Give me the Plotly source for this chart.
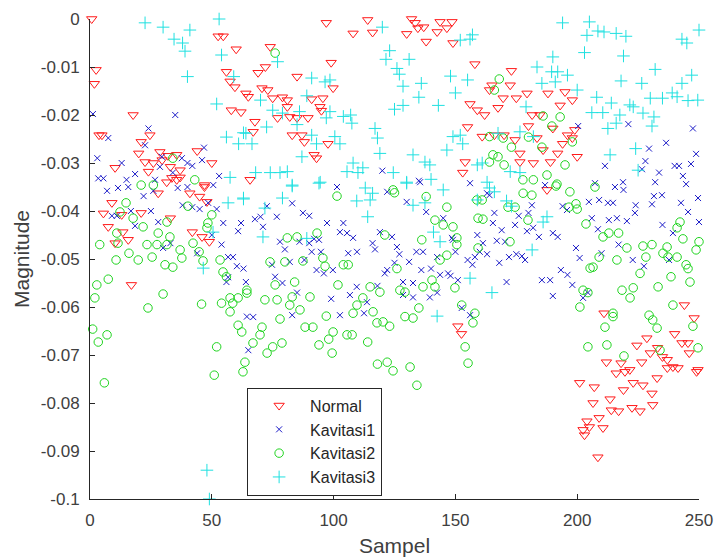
import plotly.graph_objects as go

# Samples (x) and magnitude (y) for each condition
normal = [
    (0.7, 0.0), (2.5, -0.0106), (1.8, -0.0135), (3.7, -0.0242), (4.9, -0.0242), (17.7, -0.020),
    (52.6, -0.0036), (54.7, -0.0036), (60, -0.0063), (56, -0.011), (57.5, -0.013), (59.5, -0.0142),
    (64, -0.0155), (58, -0.019), (62, -0.0194),
    (21, -0.0256), (24.6, -0.0242), (20, -0.028), (22.6, -0.0298), (26, -0.030), (28.7, -0.0277),
    (32, -0.0285), (35.6, -0.0283), (44, -0.0275), (50, -0.030), (10.3, -0.031), (24, -0.0318),
    (33, -0.0308), (37, -0.0315), (31.5, -0.034), (35.6, -0.0335), (47, -0.0346),
    (29.6, -0.0294), (33.6, -0.0331), (37, -0.033),
    (97, -0.0008), (114, -0.0002), (108, -0.003), (116, -0.0028), (132, 0.0), (133.5, -0.0008),
    (134.6, -0.0019), (137, -0.0017), (130, -0.0031), (138, -0.0047), (143.7, -0.0006), (148.6, -0.0006),
    (142.5, -0.0027), (146.5, -0.0019), (149, -0.005), (158, -0.0094), (156, -0.0177), (159, -0.019),
    (155, -0.0225), (154, -0.0298), (153, -0.032),
    (74, -0.0058), (69, -0.0112), (72, -0.010), (99, -0.0091), (85, -0.012), (99.8, -0.0144),
    (70.6, -0.0144), (73, -0.0148), (65, -0.0162), (75, -0.0165), (79, -0.0163), (81, -0.0169),
    (91, -0.0167), (95.6, -0.0165), (94.4, -0.0183), (81, -0.0183), (95, -0.0191), (77, -0.0206),
    (82, -0.0204), (85, -0.0206), (89.5, -0.0206), (67.7, -0.0214), (67, -0.0235), (83, -0.0242),
    (87, -0.0242), (88, -0.0256), (97.7, -0.026), (92, -0.0283), (93, -0.029), (65.7, -0.0335),
    (173, -0.0108), (172.5, -0.0138), (165, -0.0138), (164, -0.0148), (169.6, -0.0165), (175, -0.0165),
    (179.4, -0.0155), (188, -0.0155), (195, -0.0152), (198, -0.0169), (193, -0.018), (162, -0.020),
    (167.5, -0.0185), (181.5, -0.020), (184.7, -0.020), (180, -0.0223), (190, -0.0228), (161, -0.0245),
    (166, -0.0242), (170, -0.0242), (174.5, -0.0252), (183.5, -0.0248), (196, -0.0242), (198, -0.0248),
    (199, -0.0231), (194, -0.026), (186, -0.0273), (176.5, -0.028), (192, -0.028), (176.5, -0.0298),
    (200, -0.0287), (182, -0.030), (189, -0.0298),
    (9, -0.0383), (5.5, -0.0405), (7.5, -0.0433), (13, -0.0408), (21, -0.0404), (28, -0.0363),
    (33, -0.0415), (13.5, -0.0444), (15.7, -0.046), (10.3, -0.0467), (17, -0.0554), (42, -0.0444),
    (46, -0.0454), (49, -0.0464), (41, -0.0363), (47, -0.035), (45, -0.037), (48, -0.0381),
    (151, -0.064), (152.5, -0.0656),
    (211, -0.0613), (187.6, -0.0356), (244, -0.0596), (248, -0.0623), (224.5, -0.068), (228.6, -0.0665),
    (233, -0.0685), (240, -0.0656), (243, -0.0675), (245.5, -0.0675), (246, -0.0696), (230, -0.0696),
    (212, -0.0715), (218, -0.0717), (226.5, -0.0715), (235, -0.0704), (237, -0.071),
    (201, -0.0758), (207, -0.0767), (216, -0.0738), (219.6, -0.0735), (221.6, -0.0731), (219, -0.0773),
    (223, -0.0758), (227, -0.0763), (232.8, -0.0748), (230.7, -0.078), (231, -0.0804), (206.5, -0.080),
    (213.5, -0.0792), (214, -0.0815), (217, -0.0817), (222.5, -0.081), (225.8, -0.0817), (204, -0.0838),
    (209, -0.0831), (202.4, -0.0856), (203, -0.0867), (205, -0.085), (210.6, -0.0852), (208.5, -0.0913),
    (239.3, -0.0725), (241.4, -0.0727), (249.6, -0.0731), (249, -0.0735), (237, -0.0727),
]

kavitasi1 = [
    (1.2, -0.0198), (35, -0.020), (24, -0.0228), (7.5, -0.0248), (3, -0.029), (13, -0.030),
    (3.4, -0.0332), (5.5, -0.0332), (18.5, -0.0323), (15, -0.0335), (22.6, -0.0263), (29.5, -0.0287),
    (37.7, -0.029), (40, -0.030), (42, -0.0306), (46, -0.0294), (46.8, -0.0268), (34, -0.032),
    (53, -0.0327), (50.6, -0.0346), (26.7, -0.0335), (28.7, -0.0308), (33, -0.0467),
    (7, -0.0358), (11.5, -0.0352), (15.7, -0.035), (22, -0.0369), (26, -0.0358), (36, -0.0352),
    (40, -0.035), (9, -0.041), (11, -0.041), (16.8, -0.040), (25, -0.040), (18.5, -0.0431),
    (28, -0.0423), (38, -0.0388), (42, -0.0392), (45, -0.0396), (48.5, -0.0383), (52, -0.0396),
    (54.7, -0.0425), (60.8, -0.0442), (62, -0.0425), (54, -0.047), (30, -0.0477), (44, -0.0488),
    (56.7, -0.0496), (58.7, -0.0496), (60.3, -0.0515), (56.7, -0.0538), (56, -0.0548), (64, -0.0548),
    (64.4, -0.062), (65, -0.069), (50, -0.045),
    (101.4, -0.035), (122, -0.036), (135.5, -0.034), (156, -0.0342), (72.6, -0.039), (83, -0.0384),
    (67.7, -0.0417), (70, -0.0412), (76.7, -0.0412), (71, -0.0433), (87.4, -0.0404), (90, -0.041),
    (97.3, -0.0425), (104, -0.0425), (102.6, -0.0444), (105.5, -0.0446), (108, -0.0456), (78, -0.0464),
    (80, -0.048), (86, -0.0464), (90, -0.0467), (92, -0.0458), (94, -0.046), (91, -0.0485),
    (94.8, -0.0485), (88, -0.0502), (82, -0.0506), (74.7, -0.0512), (63, -0.052), (93, -0.0523),
    (96, -0.053), (99.7, -0.0523), (76, -0.0537), (79, -0.055), (85, -0.057), (99, -0.0583),
    (83, -0.0617), (102.6, -0.0617), (67, -0.0621), (106, -0.0488), (109.6, -0.0485), (116, -0.0467),
    (117, -0.048), (119, -0.0444), (124, -0.0454), (130, -0.0381), (138, -0.0402), (126, -0.0475),
    (127, -0.049), (134, -0.0485), (136.7, -0.0485), (131, -0.0506), (125, -0.0508), (122, -0.0523),
    (121, -0.053), (136, -0.0523), (140, -0.052), (143.7, -0.0533), (147, -0.053), (148, -0.0535),
    (142.5, -0.0496), (150, -0.0485), (149, -0.046), (145, -0.0415), (148.6, -0.0456), (155, -0.0502),
    (157, -0.0512), (151, -0.0544), (159, -0.045), (128.5, -0.0548), (132.6, -0.055), (109.5, -0.0558),
    (118, -0.0556), (106.7, -0.0575), (113.7, -0.059), (128.5, -0.0575), (132.6, -0.058), (139.5, -0.058),
    (142.5, -0.057), (112.5, -0.0613), (152.6, -0.0602), (156, -0.0617),
    (120, -0.0316), (135, -0.0337),
    (200.4, -0.0223), (221, -0.0219), (247.5, -0.0228), (229.5, -0.027), (236.5, -0.0258), (211.4, -0.0306),
    (228, -0.0296), (248.8, -0.0281), (246.7, -0.0302), (240, -0.0306), (241.8, -0.0306), (226.6, -0.0313),
    (233.6, -0.032), (243.4, -0.0327), (232, -0.034), (244.7, -0.0344), (207.3, -0.0342), (218.8, -0.034),
    (215.5, -0.035), (186.8, -0.0346),
    (219, -0.0356), (231.5, -0.0369), (234.8, -0.0367), (249.6, -0.0373), (204.8, -0.0381), (209, -0.0377),
    (212.6, -0.0383), (214.7, -0.0383), (224, -0.0388), (230.7, -0.0386), (242.6, -0.0383), (245.5, -0.0402),
    (250, -0.0423), (163, -0.0363), (164, -0.0367), (181.4, -0.0388), (194, -0.039), (195.8, -0.0398),
    (180, -0.0404), (166, -0.0404), (176, -0.041), (165.4, -0.0425), (174.5, -0.0429), (169, -0.044),
    (179.4, -0.0442), (181.9, -0.0435), (184.3, -0.0454), (190, -0.0446), (192, -0.0454), (167, -0.0462),
    (170.4, -0.0464), (161.3, -0.0467), (160, -0.0485), (158, -0.0496), (163, -0.049), (168, -0.0508),
    (172, -0.0496), (175, -0.049), (177.3, -0.0494), (178.6, -0.0502), (199.5, -0.0477), (201, -0.0498),
    (208.5, -0.0438), (206, -0.0415), (213, -0.0419), (216.3, -0.0415), (220.4, -0.0421), (223.7, -0.0404),
    (235, -0.0429), (239.3, -0.0446), (217, -0.047), (222.8, -0.0502), (227.4, -0.0515), (210, -0.0488),
    (237.7, -0.0502), (193.3, -0.0523), (196, -0.0533), (185.5, -0.0544), (188.9, -0.0544), (198, -0.0554),
    (171, -0.0548), (190, -0.0577), (202.4, -0.0581), (204.4, -0.057),
]

kavitasi2 = [
    (34, -0.029), (43, -0.0335), (21, -0.0346), (26, -0.0346), (76, -0.0071), (124.4, -0.0356),
    (168, -0.0125), (166, -0.0148), (193, -0.0204), (186, -0.0202), (164, -0.0245), (169.6, -0.0248),
    (173, -0.0267), (180, -0.0246), (189.6, -0.0223), (185.5, -0.0267), (198, -0.0256), (165.4, -0.0283),
    (164, -0.0298), (167.5, -0.0287), (170, -0.0304), (177.7, -0.0335), (182, -0.0335), (187.6, -0.0325),
    (195, -0.0304), (191.7, -0.0344), (207.3, -0.035),
    (14.8, -0.0383), (4, -0.047), (11.5, -0.0467), (16, -0.0488), (10.7, -0.0502), (19.8, -0.0502),
    (21.8, -0.0433), (17.7, -0.0415), (28, -0.0446), (23.4, -0.047), (27.5, -0.047), (32.8, -0.0454),
    (31.6, -0.047), (25.5, -0.0496), (30.8, -0.0512), (37, -0.0481), (37.7, -0.0498), (34, -0.0517),
    (42.3, -0.0467), (44.8, -0.0485), (46.4, -0.0504), (48.4, -0.0425), (50, -0.0408), (40.2, -0.039),
    (12.3, -0.0402), (31.6, -0.0423), (48, -0.0435), (11, -0.0446),
    (53.4, -0.0502), (54.6, -0.0527), (56, -0.0537), (57.5, -0.0581), (60.8, -0.0581), (58.6, -0.0592),
    (57.5, -0.061), (54, -0.0592), (64.4, -0.0571), (60.8, -0.0638), (62.3, -0.0652), (52, -0.0683),
    (45.8, -0.0594), (30, -0.0573), (23.8, -0.0602), (7.5, -0.0542), (2.8, -0.0554), (2, -0.0581),
    (1.1, -0.0646), (3.4, -0.0673), (7, -0.0658), (63.6, -0.0715),
    (5.9, -0.0758), (51, -0.0742), (62.8, -0.0735),
    (101.4, -0.0369), (125, -0.0362), (138, -0.037), (146.5, -0.0392), (141.6, -0.0419), (145, -0.0429),
    (149, -0.0433), (136.2, -0.046), (150.6, -0.0456), (150.6, -0.047), (146.5, -0.0492), (143.7, -0.0502),
    (121, -0.045), (126, -0.052), (81, -0.0456), (85, -0.0454), (93.2, -0.0446), (80, -0.0506),
    (87.4, -0.0504), (73.9, -0.0506), (95.6, -0.0498), (96.5, -0.0515), (104, -0.0512), (106, -0.0512),
    (64.4, -0.0565), (76, -0.0554), (84, -0.0548), (71.8, -0.0585), (76.8, -0.0585), (82, -0.0596),
    (86.2, -0.0606), (83, -0.0579), (90.3, -0.0579), (101.8, -0.0554), (109.6, -0.0596), (108, -0.0613),
    (112, -0.0581), (115, -0.0558), (119, -0.0569), (116.2, -0.061), (117.8, -0.0633), (120.3, -0.0631),
    (123, -0.064), (127.2, -0.0565), (129.3, -0.0569), (136.7, -0.0558), (140.4, -0.0544), (141.6, -0.0558),
    (135, -0.0602), (129.3, -0.062), (132.6, -0.0623), (149.8, -0.056), (152.6, -0.0596), (157.2, -0.0633),
    (154, -0.0683), (155.2, -0.0717), (78, -0.0625), (70.6, -0.0642), (69.8, -0.0658), (66.9, -0.0675),
    (75, -0.0683), (72.7, -0.0696), (78.8, -0.0675), (88.3, -0.0642), (91.5, -0.0642), (97, -0.0619),
    (99.8, -0.0652), (94, -0.0679), (98, -0.0667), (99.4, -0.0696), (105.5, -0.0658), (107.6, -0.0658),
    (114, -0.0673),
    (118, -0.0719), (122, -0.0715), (124.4, -0.0733), (131.4, -0.0725), (134.2, -0.0763),
    (158.8, -0.0377), (161, -0.0377), (159.3, -0.0415), (161.3, -0.0417), (171.6, -0.0392), (174.5, -0.0392),
    (177.8, -0.0363), (181.4, -0.0367), (179.8, -0.0419), (191.3, -0.0348), (197, -0.036), (199.5, -0.0385),
    (196.6, -0.0392), (200, -0.0396), (172.4, -0.0464), (203.6, -0.0427), (213, -0.0446), (217, -0.0446),
    (159.3, -0.0477),
    (210.6, -0.0454), (209, -0.0496), (216.3, -0.0502), (220.4, -0.0477), (227, -0.0473), (230.7, -0.047),
    (228.2, -0.0496), (235.2, -0.0488), (237.3, -0.0496), (241, -0.0496), (236.9, -0.0475), (242.2, -0.0423),
    (241, -0.0435), (243.4, -0.0458), (250, -0.0464), (248.8, -0.0481), (244.7, -0.0512), (245.5, -0.052),
    (246.3, -0.0548), (238.5, -0.0537), (233.2, -0.0558), (225.8, -0.053), (223, -0.056), (221.7, -0.0581),
    (218.4, -0.0565), (205.3, -0.0519), (206.5, -0.0517), (202.4, -0.0565), (204.4, -0.057), (201.1, -0.060),
    (214.7, -0.062), (214.7, -0.0613), (211.4, -0.0642), (229.5, -0.0617), (231, -0.0627), (232.8, -0.0644),
    (239.3, -0.0596), (247.5, -0.064), (204.4, -0.0683), (212.2, -0.0679), (249.6, -0.0685), (219.2, -0.0702),
    (234, -0.069), (158, -0.0613),
]

kavitasi3 = [
    (22.6, -0.0008), (30, -0.0017), (41, -0.0023), (53, 0.0), (34.5, -0.0042), (38, -0.005),
    (39, -0.0067), (54, -0.0075), (40, -0.012), (52, -0.0177), (59, -0.012), (56, -0.0246),
    (61, -0.026), (63, -0.0237), (57.5, -0.033),
    (120, -0.0017), (123, -0.0066), (121.5, -0.0084), (131, -0.0084), (126, -0.0103), (127, -0.0115),
    (128.5, -0.014), (136, -0.0134), (148, -0.0119), (155, -0.0127), (150, -0.0154), (135, -0.0163),
    (143, -0.018), (128.5, -0.018), (125, -0.0188), (152, -0.0044), (156, -0.0042), (77, -0.0089),
    (91, -0.0123), (96.5, -0.0131), (98.5, -0.0127), (89, -0.016), (70, -0.0169), (75, -0.019),
    (79, -0.0196), (86, -0.0193), (98.5, -0.0193), (104, -0.0203), (107, -0.020), (107.5, -0.0217),
    (97, -0.0206), (72.5, -0.0225), (64, -0.0238), (66.5, -0.026), (85, -0.022), (91, -0.0242),
    (93, -0.026), (100.5, -0.0245), (102.6, -0.026), (117, -0.0228), (118, -0.0248), (119, -0.028),
    (87, -0.0287), (108, -0.030), (112, -0.031), (110, -0.032), (105.5, -0.0318), (124.5, -0.032),
    (132.6, -0.0283), (137.5, -0.0298), (139.5, -0.0304), (140, -0.0334), (130, -0.034), (146.5, -0.0273),
    (149, -0.0245), (152, -0.0242), (153, -0.026), (159, -0.0304), (68, -0.032), (74, -0.032),
    (78, -0.032), (81, -0.0318), (83, -0.0346), (94.5, -0.034),
    (157, -0.0033), (194, -0.0008), (205, -0.0006), (208.5, -0.0025), (211, -0.0027), (216, -0.003),
    (220, -0.0036), (204, -0.0034), (203, -0.007), (219, -0.0077), (243, -0.0042), (245, -0.005),
    (250, -0.0023), (190, -0.0079), (183.5, -0.010), (189.5, -0.011), (192, -0.011), (196, -0.0117),
    (185.5, -0.0134), (191, -0.0131), (232, -0.0105), (247, -0.0117), (218, -0.0129), (226.5, -0.0134),
    (243, -0.0134), (239, -0.0154), (241, -0.0162), (230, -0.0165), (235, -0.0165), (245.5, -0.017),
    (249.5, -0.0169), (200, -0.0148), (208, -0.0163), (214, -0.0175), (221.6, -0.0179), (223, -0.0183),
    (206, -0.0195), (210.5, -0.0195), (217.5, -0.020), (227, -0.0196), (231.5, -0.0204), (212.6, -0.0228),
    (216, -0.0217), (230.7, -0.0223), (224, -0.027), (213.5, -0.0283), (225, -0.0315), (179, -0.0183),
    (176.5, -0.0235), (182, -0.0245), (167.5, -0.0238), (161, -0.030), (172.5, -0.0318), (176.5, -0.032),
    (163, -0.034),
    (56.7, -0.0383), (63, -0.0375), (50.5, -0.0444), (46.5, -0.0519), (71.8, -0.0394),
    (83, -0.0348), (94, -0.0342), (63, -0.0373), (79, -0.0373), (71, -0.0454), (89, -0.0457),
    (109.5, -0.0379), (113, -0.0352), (116, -0.0363), (115, -0.0377), (114, -0.0412), (130, -0.0342),
    (132.6, -0.0388), (137.5, -0.0383), (145, -0.0356), (141, -0.0444), (143.7, -0.0464), (156, -0.054),
    (142.5, -0.0619), (159, -0.0377),
    (164, -0.0352), (166, -0.036), (171, -0.0379), (173, -0.039), (187.6, -0.0412), (186, -0.0423),
    (181.5, -0.0481), (165, -0.057),
    (48, -0.094), (49, -0.1),
]

series_names = ["Normal", "Kavitasi1", "Kavitasi2", "Kavitasi3"]
x_ticks = [0, 50, 100, 150, 200, 250]
y_ticks = [0, -0.01, -0.02, -0.03, -0.04, -0.05, -0.06, -0.07, -0.08, -0.09, -0.1]
y_tick_labels = ["0", "-0.01", "-0.02", "-0.03", "-0.04", "-0.05", "-0.06", "-0.07", "-0.08", "-0.09", "-0.1"]

styles = [
    dict(symbol="triangle-down-open", size=9, color="#ff1a1a"),
    dict(symbol="x-thin", size=6, color="#1c1cc8"),
    dict(symbol="circle-open", size=8.5, color="#1fd41f"),
    dict(symbol="cross-thin", size=9, color="#1fe0e0"),
]

fig = go.Figure()
for name, pts, st in zip(series_names, [normal, kavitasi1, kavitasi2, kavitasi3], styles):
    xs = [p[0] for p in pts]
    ys = [p[1] for p in pts]
    fig.add_trace(go.Scatter(
        x=xs, y=ys, mode="markers", name=name, cliponaxis=False,
        marker=dict(symbol=st["symbol"], size=st["size"], color=st["color"],
                    line=dict(width=1, color=st["color"])),
    ))

axis_color = "#262626"
tick_font = dict(family="Liberation Sans, Arial, sans-serif", size=17, color="#404040")
title_font = dict(family="Liberation Sans, Arial, sans-serif", size=21, color="#404040")

fig.update_layout(
    width=714, height=560,
    margin=dict(l=90, r=15, t=19, b=61),
    paper_bgcolor="white", plot_bgcolor="white",
    showlegend=True,
    legend=dict(
        x=0.258, y=0.232, xanchor="left", yanchor="top",
        bgcolor="white", bordercolor="#262626", borderwidth=1,
        font=dict(family="Liberation Sans, Arial, sans-serif", size=16, color="#262626"),
        itemwidth=52,
    ),
)
fig.update_xaxes(
    range=[0, 250], tickvals=x_ticks, ticks="inside", ticklen=5, tickcolor=axis_color,
    showline=True, linecolor=axis_color, linewidth=1, mirror=False, showgrid=False, zeroline=False,
    tickfont=tick_font, title=dict(text="Sampel", font=title_font, standoff=8),
    automargin=False, ticklabelstandoff=6,
)
fig.update_yaxes(
    range=[-0.1, 0], tickvals=y_ticks, ticktext=y_tick_labels, ticks="inside", ticklen=5,
    tickcolor=axis_color, showline=True, linecolor=axis_color, linewidth=1, mirror=False,
    showgrid=False, zeroline=False, tickfont=tick_font,
    title=dict(text="Magnitude", font=title_font, standoff=5),
    automargin=False, ticklabelstandoff=6,
)

fig.write_html("out.html")
